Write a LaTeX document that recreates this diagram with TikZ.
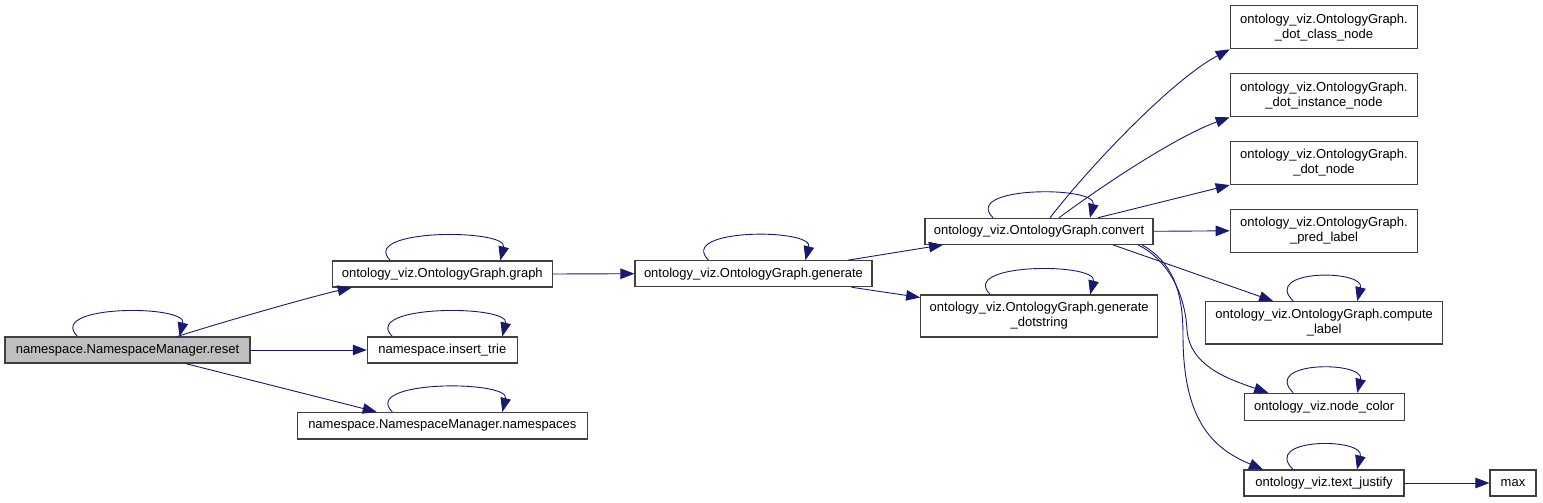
\documentclass[tikz,border=0pt]{standalone}
\usepackage{fontspec}
\setmainfont{Liberation Sans}
\usepackage{xcolor}
\usepackage{tikz}
\usetikzlibrary{arrows.meta}
\definecolor{edgeblue}{HTML}{191970}
\definecolor{boxgray}{HTML}{BFBFBF}
\definecolor{boxline}{HTML}{404040}

\tikzset{
  fn/.style={draw=boxline, line width=1.1pt, fill=white, inner sep=0pt,
             align=center, font=\fontsize{13}{15}\selectfont},
  call/.style={draw=edgeblue, line width=0.9pt,
               -{Triangle[length=14pt,width=10.5pt]}}
}
% self call drawn over the top of a box
\newcommand{\selfloop}[3]{%
  \draw[call] ([xshift=#2pt]#1.north) .. controls +(-32,-32) and +(8,-32) .. ([xshift=#3pt]#1.north);}

\begin{document}
\begin{tikzpicture}[x=1pt,y=-1pt]
  \useasboundingbox (0,0) rectangle (1543,503);
  % callers
  \node[fn, fill=boxgray, minimum width=245, minimum height=26] (reset) at (127.5,350) {namespace.NamespaceManager.reset};
  \node[fn, minimum width=220, minimum height=26] (graph) at (442.3,274) {ontology\_viz.OntologyGraph.graph};
  \node[fn, minimum width=150, minimum height=26] (trie) at (442.3,350) {namespace.insert\_trie};
  \node[fn, minimum width=290, minimum height=26.5] (spaces) at (442.3,425.7) {namespace.NamespaceManager.namespaces};
  \node[fn, minimum width=237, minimum height=26] (generate) at (753.5,273.7) {ontology\_viz.OntologyGraph.generate};
  \node[fn, minimum width=228, minimum height=26] (convert) at (1039,231.3) {ontology\_viz.OntologyGraph.convert};
  \node[fn, minimum width=237, minimum height=42] (dotstr) at (1039.2,316) {ontology\_viz.OntologyGraph.generate\\\_dotstring};
  % right column
  \node[fn, minimum width=187.5, minimum height=43] (classnode) at (1324,27.3) {ontology\_viz.OntologyGraph.\\\_dot\_class\_node};
  \node[fn, minimum width=187.5, minimum height=43] (instnode) at (1324,95.3) {ontology\_viz.OntologyGraph.\\\_dot\_instance\_node};
  \node[fn, minimum width=187.5, minimum height=43] (dotnode) at (1324,163) {ontology\_viz.OntologyGraph.\\\_dot\_node};
  \node[fn, minimum width=187.5, minimum height=43] (predlabel) at (1324,230.8) {ontology\_viz.OntologyGraph.\\\_pred\_label};
  \node[fn, minimum width=237, minimum height=42.3] (compute) at (1324.2,322.8) {ontology\_viz.OntologyGraph.compute\\\_label};
  \node[fn, minimum width=160, minimum height=27] (color) at (1324.2,406.8) {ontology\_viz.node\_color};
  \node[fn, minimum width=160, minimum height=26] (justify) at (1324,483) {ontology\_viz.text\_justify};
  \node[fn, minimum width=46, minimum height=26] (max) at (1513,483) {max};

  % self calls
  \selfloop{reset}{-50}{52}
  \selfloop{graph}{-52}{58}
  \selfloop{trie}{-50}{60}
  \selfloop{spaces}{-50}{60}
  \selfloop{generate}{-45}{52}
  \selfloop{convert}{-46}{51}
  \selfloop{dotstr}{-49}{51}
  \selfloop{compute}{-31}{33}
  \selfloop{color}{-31}{33}
  \selfloop{justify}{-31}{33}

  % calls
  \draw[call] ([xshift=50pt]reset.north) .. controls +(40,-13) and +(-40,9) .. ([xshift=-90.6pt]graph.south);
  \draw[call] (reset.east) -- (trie.west);
  \draw[call] ([xshift=58pt]reset.south) -- ([xshift=-65.6pt]spaces.north);
  \draw[call] (graph.east) -- (generate.west);
  \draw[call] ([xshift=94.5pt]generate.north) -- ([xshift=-96pt]convert.south);
  \draw[call] ([xshift=98pt]generate.south) -- ([yshift=-3pt]dotstr.north west);
  \draw[call] ([xshift=11pt]convert.north) .. controls (1095,160) and (1175,78) .. (classnode.south west);
  \draw[call] ([xshift=20pt]convert.north) .. controls (1110,180) and (1180,135) .. (instnode.south west);
  \draw[call] ([xshift=59pt]convert.north) -- (dotnode.south west);
  \draw[call] (convert.east) -- (predlabel.west);
  \draw[call] ([xshift=74pt]convert.south) -- ([xshift=-51pt]compute.north);
  \draw[call] ([xshift=99pt]convert.south) .. controls (1165,258) and (1185,290) .. (1187,330)
    .. controls (1190,365) and (1225,378) .. ([xshift=-56pt]color.north);
  \draw[call] ([xshift=103pt]convert.south) .. controls (1172,262) and (1183,290) .. (1183,335)
    .. controls (1183,420) and (1212,448) .. ([xshift=-61pt]justify.north);
  \draw[call] (justify.east) -- (max.west);
\end{tikzpicture}
\end{document}
